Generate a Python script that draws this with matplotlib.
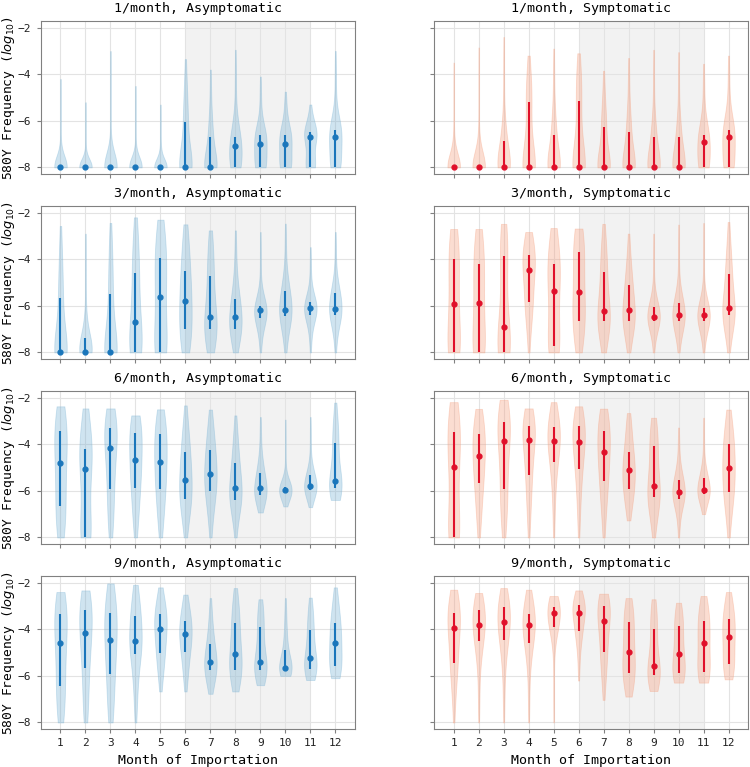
import math
import numpy as np
import matplotlib
matplotlib.use("Agg")
import matplotlib.pyplot as plt

# quantiles per violin: min, p10, p25, median, p75, p90, max  (log10 freq)
months = list(range(1, 13))
probs = [0, 0.1, 0.25, 0.5, 0.75, 0.9, 1.0]

asym_1 = [[-8, -8, -8, -8, -8, -7.3, -4.2], [-8, -8, -8, -8, -8, -7.5, -5.2],
          [-8, -8, -8, -8, -8, -7.2, -3.0], [-8, -8, -8, -8, -8, -7.4, -4.5],
          [-8, -8, -8, -8, -8, -7.3, -5.3], [-8, -8, -8, -8, -6.05, -5.0, -3.35],
          [-8, -8, -8, -8, -6.7, -5.8, -3.8], [-8, -8, -8, -7.07, -6.7, -5.8, -2.95],
          [-8, -8, -8, -7.0, -6.6, -6.2, -4.1], [-8, -8, -8, -7.0, -6.6, -6.1, -4.75],
          [-8, -8, -8, -6.7, -6.5, -6.2, -5.3], [-8, -8, -8, -6.7, -6.4, -5.9, -3.0]]
sym_1 = [[-8, -8, -8, -8, -8, -7.0, -3.5], [-8, -8, -8, -8, -8, -6.9, -2.85],
         [-8, -8, -8, -8, -6.85, -6.0, -2.4], [-8, -8, -8, -8, -5.2, -4.5, -3.2],
         [-8, -8, -8, -8, -6.6, -5.6, -2.9], [-8, -8, -8, -8, -5.15, -4.2, -3.1],
         [-8, -8, -8, -8, -6.25, -5.5, -3.85], [-8, -8, -8, -8, -6.5, -5.6, -3.3],
         [-8, -8, -8, -8, -6.7, -5.9, -2.95], [-8, -8, -8, -8, -6.7, -5.9, -3.05],
         [-8, -8, -8, -6.93, -6.6, -5.8, -3.55], [-8, -8, -8, -6.7, -6.4, -5.6, -3.2]]
asym_3 = [[-8, -8, -8, -8, -5.65, -4.3, -2.57], [-8, -8, -8, -8, -7.4, -6.5, -2.9],
          [-8, -8, -8, -8, -5.5, -4.0, -2.44], [-8, -8, -8, -6.7, -4.6, -3.4, -2.2],
          [-8, -8, -8, -5.6, -3.95, -3.0, -2.3], [-8, -7.7, -7.0, -5.8, -4.5, -3.3, -2.5],
          [-8, -7.6, -7.0, -6.5, -4.7, -3.6, -2.76], [-8, -7.5, -7.0, -6.5, -5.7, -4.8, -2.76],
          [-8, -7.0, -6.53, -6.2, -6.0, -5.4, -2.83], [-8, -7.1, -6.42, -6.2, -5.36, -4.8, -2.47],
          [-8, -6.9, -6.4, -6.1, -5.85, -5.3, -3.48], [-8, -6.9, -6.39, -6.13, -5.43, -5.0, -2.83]]
sym_3 = [[-8, -8, -8, -5.93, -4.0, -3.1, -2.7], [-8, -8, -8, -5.88, -4.2, -3.2, -2.7],
         [-8, -8, -8, -6.93, -3.85, -3.0, -2.48], [-8, -6.5, -5.85, -4.44, -3.81, -3.2, -2.83],
         [-8, -7.9, -7.74, -5.36, -4.21, -3.3, -2.66], [-8, -7.4, -6.67, -5.42, -3.67, -3.0, -2.68],
         [-8, -7.2, -6.67, -6.22, -4.54, -3.6, -2.48], [-8, -7.2, -6.67, -6.19, -5.1, -4.3, -2.9],
         [-8, -7.0, -6.67, -6.46, -6.05, -5.5, -2.9], [-8, -7.1, -6.67, -6.39, -5.88, -5.3, -2.51],
         [-8, -7.0, -6.67, -6.39, -6.1, -5.5, -2.44], [-8, -6.9, -6.39, -6.1, -4.65, -3.8, -2.4]]
asym_6 = [[-8, -7.6, -6.67, -4.81, -3.44, -2.8, -2.37], [-8, -8, -8, -5.04, -4.22, -3.2, -2.46],
          [-8, -7.2, -5.9, -4.15, -3.28, -2.8, -2.46], [-8, -7.0, -5.86, -4.68, -3.5, -3.0, -2.76],
          [-8, -7.0, -5.93, -4.75, -3.57, -2.95, -2.5], [-8, -7.0, -6.36, -5.53, -4.34, -3.5, -2.33],
          [-8, -6.8, -6.0, -5.26, -4.25, -3.4, -2.51], [-8, -6.9, -6.39, -5.86, -4.81, -3.9, -2.76],
          [-6.93, -6.5, -6.16, -5.89, -5.22, -4.6, -2.83], [-6.67, -6.3, -6.06, -5.95, -5.82, -5.4, -2.94],
          [-6.7, -6.2, -5.96, -5.8, -5.33, -4.9, -2.83], [-6.39, -6.1, -5.89, -5.56, -3.94, -3.2, -2.21]]
sym_6 = [[-8, -8, -8, -4.96, -3.48, -2.7, -2.19], [-8, -6.8, -5.68, -4.51, -3.54, -2.9, -2.48],
         [-8, -7.0, -5.93, -3.88, -3.04, -2.5, -2.09], [-8, -6.5, -5.32, -3.81, -3.23, -2.8, -2.46],
         [-8, -6.0, -4.75, -3.84, -3.25, -2.7, -2.19], [-8, -6.3, -5.05, -3.9, -3.23, -2.75, -2.37],
         [-8, -6.6, -5.59, -4.34, -3.41, -2.8, -2.47], [-7.27, -6.5, -5.9, -5.11, -4.32, -3.3, -2.66],
         [-8, -6.9, -6.28, -5.79, -4.08, -3.4, -2.86], [-8, -6.8, -6.33, -6.06, -5.53, -5.0, -3.28],
         [-7.0, -6.4, -6.13, -5.96, -5.43, -4.9, -2.86], [-8, -6.7, -6.03, -5.0, -4.0, -3.2, -2.51]]
asym_9 = [[-8, -7.5, -6.43, -4.58, -3.33, -2.8, -2.4], [-8, -7.3, -5.68, -4.18, -3.15, -2.7, -2.33],
          [-8, -7.4, -5.92, -4.45, -3.3, -2.6, -2.03], [-8, -6.5, -5.08, -4.49, -3.43, -2.7, -2.09],
          [-6.67, -5.7, -5.0, -3.97, -3.35, -2.8, -2.2], [-6.67, -5.8, -4.99, -4.21, -3.65, -3.0, -2.51],
          [-6.77, -6.3, -5.75, -5.39, -4.61, -3.8, -2.66], [-6.67, -6.2, -5.75, -5.04, -3.75, -3.0, -2.23],
          [-6.4, -6.0, -5.75, -5.39, -3.92, -3.2, -2.71], [-6.0, -5.85, -5.72, -5.68, -4.89, -3.9, -2.66],
          [-6.18, -5.9, -5.7, -5.25, -4.04, -3.3, -2.64], [-6.1, -5.85, -5.58, -4.58, -3.75, -3.0, -2.2]]
sym_9 = [[-8, -6.2, -5.43, -3.94, -3.28, -2.7, -2.3], [-8, -5.5, -4.51, -3.81, -3.15, -2.75, -2.44],
         [-8, -5.6, -4.48, -3.7, -3.04, -2.6, -2.23], [-8, -5.5, -4.58, -3.82, -3.33, -2.75, -2.3],
         [-8, -4.5, -3.9, -3.3, -3.04, -2.8, -2.57], [-6.2, -4.7, -4.08, -3.28, -2.97, -2.6, -2.33],
         [-7.03, -5.8, -4.96, -3.65, -3.0, -2.7, -2.47], [-6.89, -6.4, -5.89, -4.99, -3.68, -3.1, -2.66],
         [-6.65, -6.3, -5.96, -5.58, -3.97, -3.2, -2.71], [-6.29, -6.1, -5.89, -5.08, -3.84, -3.3, -2.86],
         [-6.29, -6.05, -5.82, -4.58, -3.65, -3.0, -2.57], [-6.15, -5.9, -5.48, -4.32, -3.57, -2.9, -2.4]]

rates = ["1/month", "3/month", "6/month", "9/month"]
panels = [(asym_1, sym_1), (asym_3, sym_3), (asym_6, sym_6), (asym_9, sym_9)]

blue_body, blue_line = "#78b2d4", "#1a76bb"
red_body, red_line = "#f59e7d", "#e0102a"

ncdf = np.vectorize(lambda z: 0.5 * (1 + math.erf(z / math.sqrt(2))))


def violin_stats(q, bw=0.6):
    # smooth density built from the quantile segments, cut at min/max
    segs = [(q[i], q[i + 1], probs[i + 1] - probs[i]) for i in range(len(q) - 1)]
    mean = sum(m * (a + b) / 2 for a, b, m in segs)
    ex2 = sum(m * (a * a + a * b + b * b) / 3 for a, b, m in segs)
    h = bw * np.sqrt(max(ex2 - mean ** 2, 0.01))
    y = np.linspace(q[0], q[-1], 300)
    d = np.zeros_like(y)
    for a, b, m in segs:
        if b - a < 1e-6:
            d += m * np.exp(-0.5 * ((y - a) / h) ** 2) / (h * np.sqrt(2 * np.pi))
        else:
            d += m / (b - a) * (ncdf((y - a) / h) - ncdf((y - b) / h))
    return dict(coords=y, vals=d, mean=mean, median=q[3], min=q[0], max=q[-1])


plt.rcParams['font.family'] = ['DejaVu Sans Mono']
fig, axes = plt.subplots(4, 2, figsize=(7.5, 7.67), dpi=100, sharey=True)
fig.subplots_adjust(left=0.054, right=0.998, top=0.973, bottom=0.049,
                    wspace=0.249, hspace=0.204)

for r in range(4):
    for c in range(2):
        ax = axes[r, c]
        data = panels[r][c]
        body = blue_body if c == 0 else red_body
        line = blue_line if c == 0 else red_line
        ax.axvspan(6, 11, color="#808080", alpha=0.1, lw=0, zorder=0)
        parts = ax.violin([violin_stats(q) for q in data], positions=months,
                          widths=0.5, showmeans=False, showextrema=False,
                          showmedians=False)
        for b in parts['bodies']:
            b.set_facecolor(body)
            b.set_edgecolor(body)
            b.set_linewidth(0.6)
            b.set_alpha(0.35)
        q1 = [q[2] for q in data]
        q3 = [q[4] for q in data]
        med = [q[3] for q in data]
        ax.vlines(months, q1, q3, color=line, lw=1.5, zorder=3)
        ax.plot(months, med, 'o', color=line, ms=3.5, zorder=4)
        ax.set_xlim(0.2, 12.8)
        ax.set_ylim(-8.3, -1.7)
        ax.set_xticks(months)
        ax.set_yticks([-8, -6, -4, -2])
        ax.grid(True, color="#e3e3e3", lw=0.8)
        ax.set_axisbelow(True)
        for s in ax.spines.values():
            s.set_color("#808080")
        ax.tick_params(colors="#808080", labelcolor="#222222", labelsize=8, length=3)
        ax.set_title(rates[r] + ", " + ("Asymptomatic" if c == 0 else "Symptomatic"),
                     fontsize=9.6)
        if c == 0:
            ax.set_ylabel(r"580Y Frequency ($log_{10}$)", fontsize=9.4, labelpad=1)
        if r < 3:
            ax.tick_params(labelbottom=False)
        else:
            ax.set_xlabel("Month of Importation", fontsize=9.6)

fig.savefig("out.png")
